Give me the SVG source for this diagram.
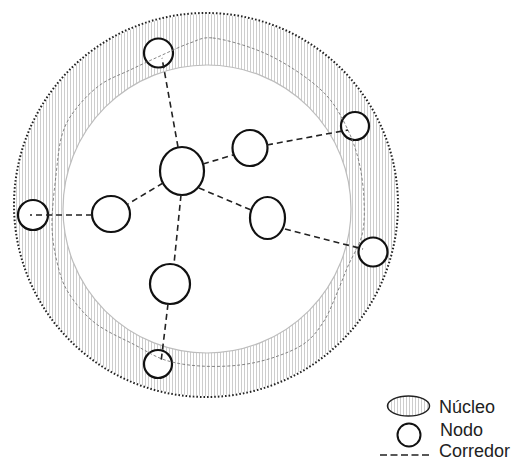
<svg xmlns="http://www.w3.org/2000/svg" width="516" height="462" viewBox="0 0 516 462">
<defs>
<pattern id="hatch" patternUnits="userSpaceOnUse" width="3" height="10">
<line x1="1.5" y1="0" x2="1.5" y2="10" stroke="#cdcdcd" stroke-width="1"/>
</pattern>
<style>
.node{fill:#fff;stroke:#111;stroke-width:2.2}
.conn{fill:none;stroke:#222;stroke-width:1.6;stroke-dasharray:6 4}
.lbl{font-family:"Liberation Sans",Arial,sans-serif;font-size:18px;fill:#222}
</style>
</defs>
<rect width="516" height="462" fill="#fff"/>
<g id="nucleo">
<path d="M206 14 a191 191 0 1 0 0.01 0 Z M207 65 a144 144 0 1 1 -0.01 0 Z" fill="url(#hatch)" fill-rule="evenodd"/>
<circle cx="207" cy="209" r="144" fill="none" stroke="#bdbdbd" stroke-width="1.2"/>
<circle cx="206" cy="205" r="192" fill="none" stroke="#222" stroke-width="2" stroke-dasharray="1.6 2"/>
</g>
<g id="nodes">
<g id="n-top"><circle class="node" cx="158.5" cy="53" r="14.5"/></g>
<g id="n-center"><ellipse class="node" cx="182" cy="171" rx="22" ry="24"/></g>
<g id="n-right-inner"><ellipse class="node" cx="250" cy="148" rx="17.5" ry="18"/></g>
<g id="n-right-top"><circle class="node" cx="355" cy="126" r="14"/></g>
<g id="n-left-inner"><ellipse class="node" cx="111" cy="214" rx="19" ry="18"/></g>
<g id="n-left-edge"><circle class="node" cx="33" cy="215" r="15"/></g>
<g id="n-right-center"><ellipse class="node" cx="267.5" cy="218" rx="17.5" ry="21"/></g>
<g id="n-right-edge"><circle class="node" cx="373" cy="252" r="14.5"/></g>
<g id="n-lower"><ellipse class="node" cx="170" cy="284" rx="20" ry="20"/></g>
<g id="n-bottom"><circle class="node" cx="158" cy="364" r="14"/></g>
</g>
<path d="M 213 38 C 224.2 39.2, 243.3 44.7, 257 50 C 270.7 55.3, 283.3 62.3, 295 70 C 306.7 77.7, 318.3 86.3, 327 96 C 335.7 105.7, 341.7 117, 347 128 C 352.3 139, 356.2 150, 359 162 C 361.8 174, 363.5 187.8, 364 200 C 364.5 212.2, 364.7 224, 362 235 C 359.3 246, 352.2 256.3, 348 266 C 343.8 275.7, 341 283.8, 337 293 C 333 302.2, 329.3 312.7, 324 321 C 318.7 329.3, 313.2 337, 305 343 C 296.8 349, 285.8 353.3, 275 357 C 264.2 360.7, 252.5 363.5, 240 365 C 227.5 366.5, 212.5 366.8, 200 366 C 187.5 365.2, 175.8 363.5, 165 360 C 154.2 356.5, 146.7 351.2, 135 345 C 123.3 338.8, 106.2 331.8, 95 323 C 83.8 314.2, 74.3 302.2, 68 292 C 61.7 281.8, 59.7 273.2, 57 262 C 54.3 250.8, 52.2 239.5, 52 225 C 51.8 210.5, 54.3 190, 56 175 C 57.7 160, 58.8 145.8, 62 135 C 65.2 124.2, 68.7 118.3, 75 110 C 81.3 101.7, 90.8 91.7, 100 85 C 109.2 78.3, 120 74.8, 130 70 C 140 65.2, 150 60.5, 160 56 C 170 51.5, 181.2 46, 190 43 C 198.8 40, 201.8 36.8, 213 38 Z" fill="none" stroke="#777" stroke-width="0.9" stroke-dasharray="3 2"/>
<g id="connectors">
<line class="conn" x1="178" y1="147" x2="162" y2="58"/>
<line class="conn" x1="203" y1="164" x2="233" y2="155"/>
<line class="conn" x1="267" y1="145" x2="348" y2="130"/>
<line class="conn" x1="163" y1="183" x2="128" y2="204"/>
<line class="conn" x1="92" y1="215" x2="30" y2="215"/>
<line class="conn" x1="199" y1="188" x2="251" y2="210"/>
<line class="conn" x1="285" y1="229" x2="363" y2="249"/>
<line class="conn" x1="181" y1="195" x2="174" y2="264"/>
<line class="conn" x1="168" y1="304" x2="161" y2="362"/>
</g>
<g id="legend">
<ellipse cx="408.5" cy="406" rx="21" ry="10" fill="url(#hatch)" stroke="#222" stroke-width="1.5"/>
<text class="lbl" x="439" y="413">Núcleo</text>
<circle cx="409" cy="435" r="11.5" fill="#fff" stroke="#111" stroke-width="2"/>
<text class="lbl" x="440" y="436">Nodo</text>
<line x1="380" y1="455" x2="432" y2="455" stroke="#222" stroke-width="1.6" stroke-dasharray="7 3.5"/>
<text class="lbl" x="439" y="457">Corredor</text>
</g>
</svg>
